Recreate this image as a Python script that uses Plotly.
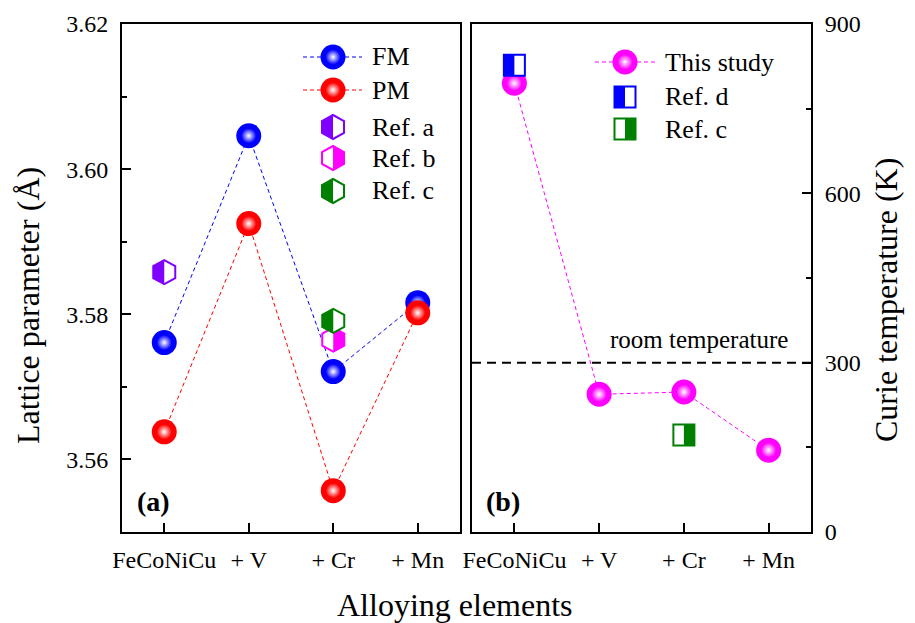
import plotly.graph_objects as go

# ---------------- data ----------------
categories = ["FeCoNiCu", "+ V", "+ Cr", "+ Mn"]
fm_lattice = [3.5761, 3.6046, 3.5721, 3.5816]
pm_lattice = [3.5638, 3.5925, 3.5557, 3.5802]
ref_a_cat = ["FeCoNiCu"]
ref_a_lattice = [3.5858]
ref_b_cat = ["+ Cr"]
ref_b_lattice = [3.5765]
ref_c_cat = ["+ Cr"]
ref_c_lattice = [3.5791]

curie_this = [795, 244, 248, 145]
ref_d_cat = ["FeCoNiCu"]
ref_d_curie = [827]
ref_c2_cat = ["+ Cr"]
ref_c2_curie = [172]
room_temperature = 300

# ---------------- styles ----------------
W, H = 915, 623
OFF = 8  # page body margin of the viewer
FONT = "Liberation Serif"
BLUE, RED, MAG = "#0000FF", "#FF0000", "#FF00FF"
PURPLE, GREEN = "#8000FF", "#008000"
idx = {c: i for i, c in enumerate(categories)}
xs = [idx[c] for c in categories]

# panel frame in (screen) pixels
A_L, A_R, B_L, B_R, TOP, BOT = 122, 460, 472, 811, 24, 532


def px(x):
    return (x - OFF) / W


def py(y):
    return 1 - (y - OFF) / H


fig = go.Figure()


def ball_trace(x, y, color, xaxis, yaxis, mode="lines+markers"):
    if "lines" in mode:
        fig.add_trace(go.Scatter(
            x=x, y=y, mode="lines",
            line=dict(color=color, width=1, dash="4px,3px"),
            xaxis=xaxis, yaxis=yaxis, showlegend=False, hoverinfo="skip"))
    if "markers" in mode:
        fig.add_trace(go.Scatter(
            x=x, y=y, mode="markers", cliponaxis=False,
            marker=dict(size=25, color=color, line=dict(width=0)),
            xaxis=xaxis, yaxis=yaxis, showlegend=False, hoverinfo="skip"))
        fig.add_trace(go.Scatter(
            x=x, y=y, mode="markers", cliponaxis=False,
            marker=dict(size=15, color=color, line=dict(width=0),
                        gradient=dict(type="radial", color="white")),
            xaxis=xaxis, yaxis=yaxis, showlegend=False, hoverinfo="skip"))


shapes = []


def hexagon(xref, yref, x, y, color, side):
    w, h = 11, 12
    full = (f"M 0,{h} L {w},{h/2} L {w},{-h/2} L 0,{-h} "
            f"L {-w},{-h/2} L {-w},{h/2} Z")
    s = -w if side == "left" else w
    half = f"M 0,{h} L {s},{h/2} L {s},{-h/2} L 0,{-h} Z"
    base = dict(type="path", xref=xref, yref=yref, xsizemode="pixel",
                ysizemode="pixel", xanchor=x, yanchor=y, layer="above")
    shapes.append(dict(base, path=full, fillcolor="white",
                       line=dict(color=color, width=2)))
    shapes.append(dict(base, path=half, fillcolor=color, line=dict(width=0)))


def square(xref, yref, x, y, color, side):
    a = 10.5
    full = f"M {-a},{-a} L {a},{-a} L {a},{a} L {-a},{a} Z"
    half = (f"M {-a},{-a} L 0,{-a} L 0,{a} L {-a},{a} Z" if side == "left"
            else f"M 0,{-a} L {a},{-a} L {a},{a} L 0,{a} Z")
    base = dict(type="path", xref=xref, yref=yref, xsizemode="pixel",
                ysizemode="pixel", xanchor=x, yanchor=y, layer="above")
    shapes.append(dict(base, path=full, fillcolor="white",
                       line=dict(color=color, width=2)))
    shapes.append(dict(base, path=half, fillcolor=color, line=dict(width=0)))


# ---- panel (a) ----
ball_trace(xs, fm_lattice, BLUE, "x", "y")
ball_trace(xs, pm_lattice, RED, "x", "y")
for c, v in zip(ref_a_cat, ref_a_lattice):
    hexagon("x", "y", idx[c], v, PURPLE, "left")
for c, v in zip(ref_b_cat, ref_b_lattice):
    hexagon("x", "y", idx[c], v, MAG, "right")
for c, v in zip(ref_c_cat, ref_c_lattice):
    hexagon("x", "y", idx[c], v, GREEN, "left")

# ---- panel (b) ----
ball_trace(xs, curie_this, MAG, "x2", "y2")
for c, v in zip(ref_d_cat, ref_d_curie):
    square("x2", "y2", idx[c], v, BLUE, "left")
for c, v in zip(ref_c2_cat, ref_c2_curie):
    square("x2", "y2", idx[c], v, GREEN, "right")

shapes.append(dict(type="line", xref="x2 domain", yref="y2", x0=0, x1=1,
                   y0=room_temperature, y1=room_temperature,
                   line=dict(color="black", width=2, dash="9px,6px")))

# ---- manual legends: glyphs placed on overlay axes measured in pixels ----
LEG_A = dict(glyph_x=333, line_x=[303, 362], text_x=370,
             rows=[57, 90, 127, 158, 191])
LEG_B = dict(glyph_x=625, line_x=[595, 655], text_x=663,
             rows=[62, 97, 129])

for r, c in zip(LEG_A["rows"][:2], [BLUE, RED]):
    ball_trace(LEG_A["line_x"], [r, r], c, "x3", "y3", mode="lines")
    ball_trace([LEG_A["glyph_x"]], [r], c, "x3", "y3", mode="markers")
for r, c in zip(LEG_B["rows"][:1], [MAG]):
    ball_trace(LEG_B["line_x"], [r, r], c, "x4", "y4", mode="lines")
    ball_trace([LEG_B["glyph_x"]], [r], c, "x4", "y4", mode="markers")

hexagon("x3", "y3", LEG_A["glyph_x"], LEG_A["rows"][2], PURPLE, "left")
hexagon("x3", "y3", LEG_A["glyph_x"], LEG_A["rows"][3], MAG, "right")
hexagon("x3", "y3", LEG_A["glyph_x"], LEG_A["rows"][4], GREEN, "left")
square("x4", "y4", LEG_B["glyph_x"], LEG_B["rows"][1], BLUE, "left")
square("x4", "y4", LEG_B["glyph_x"], LEG_B["rows"][2], GREEN, "right")

annotations = []
for txt, row in zip(["FM", "PM", "Ref. a", "Ref. b", "Ref. c"], LEG_A["rows"]):
    annotations.append(dict(x=px(LEG_A["text_x"]), y=py(row), text=txt,
                            xref="paper", yref="paper",
                            xanchor="left", yanchor="middle", showarrow=False,
                            font=dict(size=26)))
for txt, row in zip(["This study", "Ref. d", "Ref. c"], LEG_B["rows"]):
    annotations.append(dict(x=px(LEG_B["text_x"]), y=py(row), text=txt,
                            xref="paper", yref="paper",
                            xanchor="left", yanchor="middle", showarrow=False,
                            font=dict(size=26)))

for t, x, y, s, ang in [
        ("<b>(a)</b>", 153, 501, 28, 0),
        ("<b>(b)</b>", 503, 501, 28, 0),
        ("room temperature", 699, 339, 25, 0),
        ("Alloying elements", 455, 605, 32, 0),
        ("Lattice parameter (Å)", 28, 306, 32, -90),
        ("Curie temperature (K)", 886, 300, 32, -90)]:
    annotations.append(dict(x=px(x), y=py(y), text=t, xref="paper",
                            yref="paper", showarrow=False, textangle=ang,
                            xanchor="center", yanchor="middle",
                            font=dict(size=s)))

axis_common = dict(showline=True, linewidth=2, linecolor="black", mirror=True,
                   ticks="inside", ticklen=9, tickwidth=2, tickcolor="black",
                   showgrid=False, zeroline=False,
                   tickfont=dict(family=FONT, size=24, color="black"))

ydom = [py(BOT), py(TOP)]
fig.update_layout(
    width=W, height=H, margin=dict(l=0, r=0, t=0, b=0, pad=0, autoexpand=False),
    autosize=False,
    paper_bgcolor="white", plot_bgcolor="rgba(0,0,0,0)",
    font=dict(family=FONT, color="black"),
    showlegend=False,
    xaxis=dict(axis_common, domain=[px(A_L), px(A_R)], range=[-0.5, 3.5],
               tickmode="array", tickvals=xs, ticktext=categories,
               anchor="y", ticklabelstandoff=5),
    yaxis=dict(axis_common, domain=ydom, range=[3.55, 3.62],
               tickmode="linear", tick0=3.56, dtick=0.02, tickformat=".2f",
               anchor="x", ticklabelstandoff=7,
               minor=dict(ticks="inside", ticklen=5, tickwidth=2,
                          tickcolor="black", dtick=0.01, tick0=3.55)),
    xaxis2=dict(axis_common, domain=[px(B_L), px(B_R)], range=[-0.5, 3.5],
                tickmode="array", tickvals=xs, ticktext=categories,
                anchor="y2", ticklabelstandoff=5),
    yaxis2=dict(axis_common, domain=ydom, range=[0, 900], side="right",
                tickmode="linear", tick0=0, dtick=300, anchor="x2",
                ticklabelstandoff=7,
                minor=dict(ticks="inside", ticklen=5, tickwidth=2,
                           tickcolor="black", dtick=150, tick0=0)),
    xaxis3=dict(overlaying="x", range=[A_L, A_R], visible=False, anchor="y3"),
    yaxis3=dict(overlaying="y", range=[BOT, TOP], visible=False, anchor="x3"),
    xaxis4=dict(overlaying="x2", range=[B_L, B_R], visible=False, anchor="y4"),
    yaxis4=dict(overlaying="y2", range=[BOT, TOP], visible=False, anchor="x4"),
    shapes=shapes,
    annotations=annotations,
)

fig.write_html("out.html")
